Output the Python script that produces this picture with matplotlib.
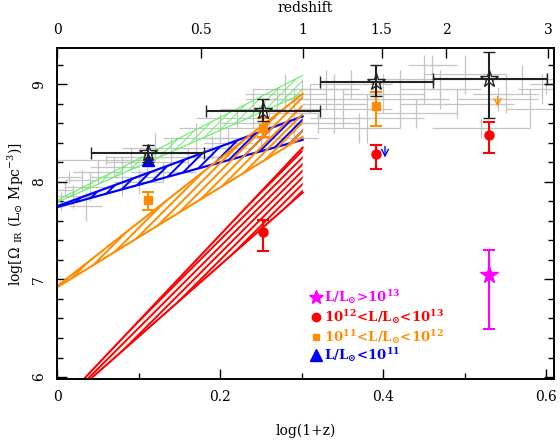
import matplotlib
matplotlib.use('Agg')
import matplotlib.pyplot as plt
import numpy as np

plt.rcParams['font.family'] = 'DejaVu Serif'
plt.rcParams['mathtext.fontset'] = 'dejavuserif'
plt.rcParams['font.size'] = 10

# ---- background literature points (grey crosses): x, y, xerr, yerr
gx = [0.01, 0.02, 0.03, 0.04, 0.015, 0.05, 0.07, 0.08, 0.09, 0.11, 0.12, 0.13, 0.14, 0.06,
      0.17, 0.19, 0.20, 0.22, 0.24, 0.26, 0.27, 0.28, 0.29, 0.25,
      0.31, 0.33, 0.35, 0.36, 0.38, 0.40, 0.42, 0.44, 0.32,
      0.47, 0.49, 0.50, 0.52, 0.55, 0.57, 0.58, 0.60, 0.46, 0.595,
      0.005, 0.035, 0.10, 0.16, 0.21, 0.30, 0.34, 0.37, 0.45, 0.54]
gy = [7.92, 7.85, 8.02, 7.95, 8.05, 8.10, 8.15, 8.05, 8.25, 8.20, 8.35, 8.10, 8.30, 8.22,
      8.45, 8.35, 8.55, 8.65, 8.75, 8.60, 8.85, 8.90, 8.70, 8.45,
      8.85, 8.95, 8.75, 9.00, 8.65, 8.90, 8.85, 8.70, 8.60,
      8.95, 8.80, 9.10, 8.55, 8.90, 9.05, 8.75, 9.00, 9.20, 8.95,
      7.80, 7.75, 8.00, 8.25, 8.40, 8.95, 8.80, 8.55, 9.05, 8.85]
gxe = [0.01, 0.02, 0.02, 0.03, 0.015, 0.03, 0.03, 0.04, 0.03, 0.05, 0.04, 0.04, 0.03, 0.06,
       0.04, 0.05, 0.05, 0.05, 0.04, 0.06, 0.04, 0.05, 0.03, 0.07,
       0.05, 0.04, 0.06, 0.05, 0.07, 0.05, 0.06, 0.05, 0.05,
       0.05, 0.07, 0.05, 0.06, 0.04, 0.04, 0.03, 0.02, 0.03, 0.03,
       0.005, 0.02, 0.03, 0.04, 0.03, 0.06, 0.04, 0.05, 0.06, 0.05]
gye = [0.08, 0.12, 0.10, 0.15, 0.06, 0.12, 0.10, 0.20, 0.10, 0.12, 0.15, 0.10, 0.15, 0.05,
       0.15, 0.12, 0.15, 0.10, 0.20, 0.15, 0.12, 0.20, 0.25, 0.10,
       0.15, 0.20, 0.20, 0.15, 0.25, 0.20, 0.30, 0.15, 0.10,
       0.20, 0.15, 0.20, 0.10, 0.20, 0.15, 0.20, 0.10, 0.10, 0.15,
       0.10, 0.15, 0.12, 0.10, 0.15, 0.10, 0.30, 0.15, 0.25, 0.12]

# ---- evolution bands, log(1+z) from 0 to z=1
band_x = [0.0, 0.301]
green_lo, green_hi = [7.79, 8.90], [7.81, 9.09]
blue_lo, blue_hi = [7.74, 8.43], [7.75, 8.67]
orange_lo, orange_hi = [6.92, 8.46], [6.93, 8.90]
red_lo, red_hi = [5.68, 7.89], [5.69, 8.35]

# ---- total (open stars)
tot_x = [0.112, 0.252, 0.391, 0.530]
tot_xlo = [0.042, 0.182, 0.322, 0.461]
tot_xhi = [0.180, 0.322, 0.461, 0.601]
tot_y = [8.29, 8.73, 9.02, 9.05]
tot_ylo = [8.20, 8.62, 8.88, 8.65]
tot_yhi = [8.38, 8.85, 9.20, 9.33]

# ---- luminosity classes
blue_x, blue_y = [0.112], [8.22]
orange_x = [0.112, 0.252, 0.391]
orange_y = [7.81, 8.55, 8.78]
orange_lo_e = [0.10, 0.09, 0.21]
orange_hi_e = [0.09, 0.10, 0.14]
red_x = [0.252, 0.391, 0.530]
red_y = [7.49, 8.28, 8.48]
red_lo_e = [0.20, 0.15, 0.18]
red_hi_e = [0.12, 0.10, 0.13]
mag_x, mag_y = [0.530], [7.05]
mag_lo_e, mag_hi_e = [0.56], [0.25]

# upper limits (x, y_start, y_end)
blue_lim = (0.402, 8.39, 8.22)
orange_lim = (0.540, 8.90, 8.74)

z_ticks = [0, 0.5, 1, 1.5, 2, 3]
z_labels = ['0', '0.5', '1', '1.5', '2', '3']

fig = plt.figure(figsize=(5.6, 4.43), dpi=100)
ax = fig.add_axes([0.102, 0.1445, 0.887, 0.747])

ax.errorbar(gx, gy, xerr=gxe, yerr=gye, fmt='none', ecolor='#c4c4c4', elinewidth=0.9, zorder=1)

# hatched bands, boundaries drawn as lines (no closing edge at z=1)
bands = [(green_lo, green_hi, '#66ee66', '////', 0.7, 0.8, 2),
         (blue_lo, blue_hi, '#0000ff', '///', 1.4, 1.6, 3),
         (orange_lo, orange_hi, '#ff8c00', '////', 1.4, 1.5, 4),
         (red_lo, red_hi, '#ff0000', '/////', 1.4, 1.5, 3)]
for lo, hi, c, h, hlw, lw, zo in bands:
    plt.rcParams['hatch.linewidth'] = hlw
    ax.fill_between(band_x, lo, hi, facecolor='none', edgecolor=c, hatch=h,
                    linewidth=0, zorder=zo)
    ax.plot(band_x, lo, color=c, lw=lw, zorder=zo)
    ax.plot(band_x, hi, color=c, lw=lw, zorder=zo)

# points
ax.errorbar(tot_x, tot_y,
            xerr=[np.subtract(tot_x, tot_xlo), np.subtract(tot_xhi, tot_x)],
            yerr=[np.subtract(tot_y, tot_ylo), np.subtract(tot_yhi, tot_y)],
            fmt='*', ms=13, mfc='none', mec='#222222', mew=1.0, ecolor='#222222',
            elinewidth=1.5, capsize=4, capthick=1.5, zorder=6)
ax.plot(blue_x, blue_y, '^', color='#0000ff', ms=8, zorder=5)
ax.errorbar(orange_x, orange_y, yerr=[orange_lo_e, orange_hi_e], fmt='s', color='#ff8c00',
            ms=6, elinewidth=1.5, capsize=4, capthick=1.5, zorder=5)
ax.errorbar(red_x, red_y, yerr=[red_lo_e, red_hi_e], fmt='o', color='#ff0000',
            ms=6.5, elinewidth=1.5, capsize=4, capthick=1.5, zorder=5)
ax.errorbar(mag_x, mag_y, yerr=[mag_lo_e, mag_hi_e], fmt='*', color='#ff00ff',
            ms=13, elinewidth=1.5, capsize=4, capthick=1.5, zorder=5)

for (lx, y0, y1), c in [(blue_lim, '#0000ff'), (orange_lim, '#ff8c00')]:
    ax.annotate('', xy=(lx, y1), xytext=(lx, y0),
                arrowprops=dict(arrowstyle='->', color=c, lw=1.0, mutation_scale=12))

# legend drawn by hand
leg = [('*', '#ff00ff', 10, r'$\mathbf{L/L_{\odot}\!>\!10^{13}}$', 6.82),
       ('o', '#ff0000', 6, r'$\mathbf{10^{12}\!<\!L/L_{\odot}\!<\!10^{13}}$', 6.61),
       ('s', '#ff8c00', 5, r'$\mathbf{10^{11}\!<\!L/L_{\odot}\!<\!10^{12}}$', 6.41),
       ('^', '#0000ff', 8, r'$\mathbf{L/L_{\odot}\!<\!10^{11}}$', 6.23)]
for m, c, s, t, yy in leg:
    ax.plot([0.318], [yy], m, color=c, ms=s, zorder=7)
    ax.text(0.327, yy, t, color=c, fontsize=9.5, va='center', ha='left')

ax.set_xlim(0, 0.609)
ax.set_ylim(5.98, 9.37)
ax.set_xticks([0, 0.2, 0.4, 0.6])
ax.set_xticklabels(['0', '0.2', '0.4', '0.6'])
ax.set_xticks(np.arange(0.1, 0.61, 0.2), minor=True)
ax.set_yticks([6, 7, 8, 9])
ax.set_yticks(np.arange(6.2, 9.37, 0.2), minor=True)
ax.tick_params(which='both', direction='in', right=True, top=False)
ax.tick_params(which='major', length=7, width=1, pad=8)
ax.tick_params(which='minor', length=4, width=1)
ax.tick_params(axis='y', labelrotation=90)
for lab in ax.get_yticklabels():
    lab.set_va('center')
ax.set_xlabel('log(1+z)', labelpad=14)
ax.set_ylabel(r'log[$\Omega$ $_{\rm IR}$ (L$_{\odot}$ Mpc$^{-3}$)]', labelpad=4)

top = ax.twiny()
top.set_xlim(ax.get_xlim())
top.set_xticks(np.log10(1 + np.array(z_ticks)))
top.set_xticklabels(z_labels)
top.tick_params(direction='in', length=7, width=1, pad=8)
top.set_xlabel('redshift', labelpad=8)

for a in (ax, top):
    for sp in a.spines.values():
        sp.set_linewidth(1.2)

fig.savefig('out.png', dpi=100)
